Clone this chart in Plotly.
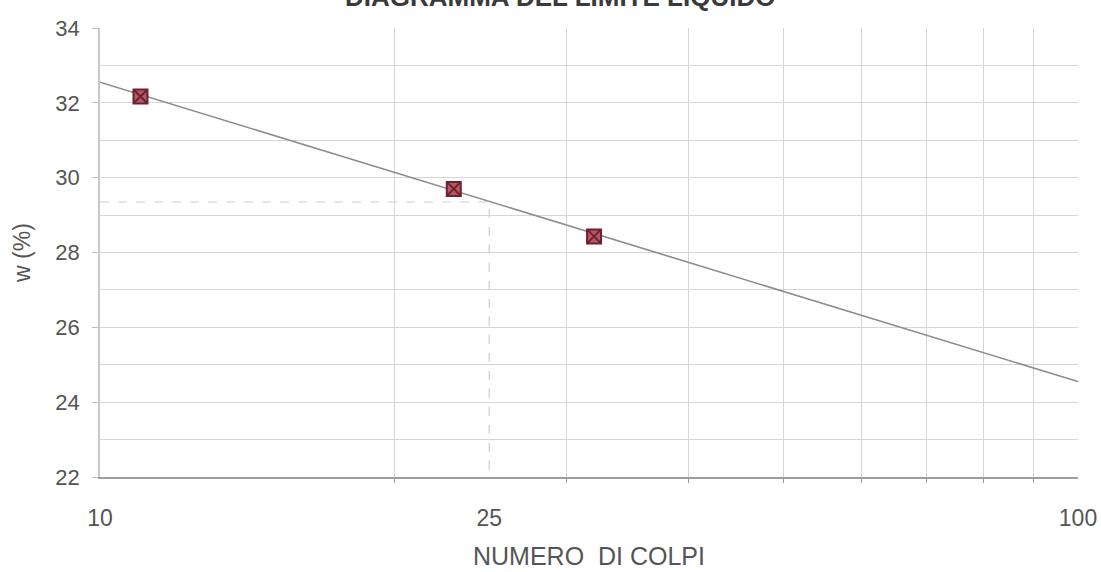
import plotly.graph_objects as go

# Data
colpi = [11.0, 23.0, 32.0]          # numero di colpi
w_pct = [32.17, 29.70, 28.43]       # contenuto d'acqua (%)
fit_x = [10, 100]                   # retta di interpolazione (estremi)
fit_y = [32.55, 24.55]
ll_colpi = 25                       # colpi per limite liquido
ll_w = 29.35
x_tick_vals = [10, 25, 100]
x_tick_text = ["10", "25", "100"]
x_grid_vals = [20, 30, 40, 50, 60, 70, 80, 90]
y_tick_vals = [22, 24, 26, 28, 30, 32, 34]
y_minor_vals = [23, 25, 27, 29, 31, 33]

FONT = "Liberation Sans, Arial, sans-serif"
GRID = "#d6d6d6"

fig = go.Figure()

# dashed guide lines for the liquid limit
fig.add_trace(go.Scatter(
    x=[fit_x[0], ll_colpi, ll_colpi], y=[ll_w, ll_w, y_tick_vals[0]],
    mode="lines", line=dict(color="#cfcfcf", width=1.2, dash="dash"),
    hoverinfo="skip", showlegend=False))

# fitted line
fig.add_trace(go.Scatter(
    x=fit_x, y=fit_y, mode="lines",
    line=dict(color="#8c8c8c", width=1.6), showlegend=False))

# experimental points
fig.add_trace(go.Scatter(
    x=colpi, y=w_pct, mode="markers",
    marker=dict(symbol="square-x", size=14, color="#b05a68",
                line=dict(color="#70202e", width=2)),
    showlegend=False))

fig.update_layout(
    width=1101, height=572,
    margin=dict(l=100, r=23, t=28, b=95, autoexpand=False),
    paper_bgcolor="white", plot_bgcolor="white",
    font=dict(family=FONT, color="#555555"),
    annotations=[dict(
        text="<b>DIAGRAMMA DEL LIMITE LIQUIDO</b>",
        x=0.5, y=1.0, xref="paper", yref="paper",
        xanchor="center", yanchor="middle", yshift=31, xshift=-29,
        showarrow=False, font=dict(size=26, color="#3a3a3a", family=FONT))],
)

fig.update_xaxes(
    type="log", range=[1, 2], automargin=False,
    tickvals=x_tick_vals, ticktext=x_tick_text,
    showgrid=False, ticks="", tickfont=dict(size=23, color="#555555"),
    ticklabelstandoff=20,
    showline=True, linecolor="#9e9e9e", linewidth=1.5, mirror=False,
    zeroline=False,
    minor=dict(tickvals=x_grid_vals, showgrid=True, gridcolor=GRID,
               gridwidth=1.2, ticks="outside", ticklen=4, tickcolor="#9a9a9a"),
    title=dict(text="NUMERO  DI COLPI", font=dict(size=25, color="#555555"),
               standoff=17),
)

fig.update_yaxes(
    range=[22, 34], tickvals=y_tick_vals, automargin=False,
    showgrid=True, gridcolor=GRID, gridwidth=1.2,
    ticks="outside", ticklen=6, tickcolor="#bdbdbd",
    tickfont=dict(size=22, color="#555555"),
    ticklabelstandoff=8,
    showline=True, linecolor="#c8c8c8", linewidth=1.5,
    zeroline=False,
    minor=dict(tickvals=y_minor_vals, showgrid=True, gridcolor=GRID,
               gridwidth=1.2),
    title=dict(text="w (%)", font=dict(size=23, color="#555555"), standoff=18),
)

fig.write_html("out.html", config={"displayModeBar": False},
               post_script="document.body.style.margin='0';")
